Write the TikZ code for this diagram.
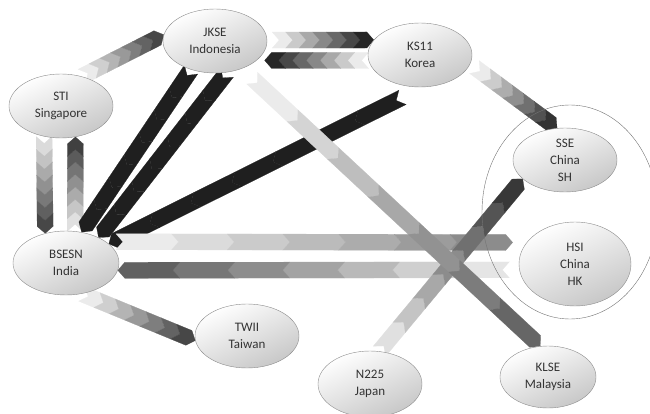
\documentclass[tikz,border=0pt]{standalone}
\usepackage{fontspec}
\setmainfont{Carlito}
\usetikzlibrary{shapes.geometric,calc,backgrounds}

% one chevron band: start, end, light level, dark level
\newcommand{\chevband}[4]{%
  \coordinate (cs) at (#1);
  \coordinate (ct) at (#2);
  \coordinate (ce) at ($(ct)!7pt!(cs)$);
  \coordinate (cw) at ($(cs)!8pt!90:(ce)$);
  \coordinate (cd) at ($(cs)!7pt!(ce)$);
  \foreach \i in {0,...,6}{%
    \pgfmathsetmacro{\ta}{\i/7}%
    \pgfmathsetmacro{\tb}{(\i+1)/7}%
    \pgfmathsetmacro{\lev}{#3+(#4-#3)*\i/6}%
    \filldraw[fill=black!\lev, draw=black!\lev, line width=0.2pt]
      ($(cs)!\ta!(ce)+(cw)-(cs)$) -- ($(cs)!\ta!(ce)+(cd)-(cs)$)
      -- ($(cs)!\ta!(ce)-(cw)+(cs)$) -- ($(cs)!\tb!(ce)-(cw)+(cs)$)
      -- ($(cs)!\tb!(ce)+(cd)-(cs)$) -- ($(cs)!\tb!(ce)+(cw)-(cs)$) -- cycle;
  }%
}

\begin{document}
\begin{tikzpicture}[x=1pt, y=-1pt,
  mkt/.style={ellipse, draw=black!45, top color=white, bottom color=black!22,
    shading angle=25, minimum width=104pt, minimum height=64pt, inner sep=0pt,
    align=center, font=\fontsize{13}{17}\selectfont, text=black!80},
  ring/.style={ellipse, draw=black!55, minimum width=176pt, minimum height=214pt}
]
  \useasboundingbox (0,0) rectangle (650,414);

  \node[mkt] (jkse) at (215,41) {JKSE\\Indonesia};
  \node[mkt] (sti) at (61,106) {STI\\Singapore};
  \node[mkt] (ks11) at (420,55) {KS11\\Korea};
  \node[mkt] (sse) at (565,160) {SSE\\China\\SH};
  \node[mkt, minimum width=112pt, minimum height=84pt] (hsi) at (575,264) {HSI\\China\\HK};
  \node[mkt, minimum width=106pt] (bsesn) at (66,263) {BSESN\\India};
  \node[mkt] (twii) at (247,336) {TWII\\Taiwan};
  \node[mkt, minimum height=66pt] (n225) at (370,384) {N225\\Japan};
  \node[mkt, minimum width=96pt, minimum height=62pt] (klse) at (548,377) {KLSE\\Malaysia};

  \begin{pgfonlayer}{background}
    \chevband{sti.55}{jkse.173}{8}{72}
    \chevband{[xshift=5pt]jkse.1}{ks11.162}{8}{85}
    \chevband{ks11.186}{[xshift=8pt]jkse.-25}{8}{85}
    \chevband{[xshift=6pt]ks11.-14}{sse.104}{8}{80}
    \chevband{sti.241}{bsesn.125}{14}{72}
    \chevband{bsesn.74}{sti.-65}{12}{75}
    \chevband{jkse.230}{bsesn.63}{88}{88}
    \chevband{jkse.-69}{bsesn.38}{88}{88}
    \chevband{[yshift=-12pt]ks11.-120}{bsesn.24}{88}{88}
    \chevband{[xshift=10pt]bsesn.28}{[xshift=-14pt]hsi.156}{8}{45}
    \chevband{[xshift=-10pt]hsi.186}{bsesn.-8}{10}{62}
    \chevband{bsesn.-63}{twii.185}{8}{72}
    \chevband{n225.74}{sse.204}{12}{78}
    \chevband{[xshift=9pt,yshift=-10pt]jkse.-44}{klse.104}{8}{60}
  \end{pgfonlayer}

  \node[ring] (china) at (570,212) {};
\end{tikzpicture}
\end{document}
